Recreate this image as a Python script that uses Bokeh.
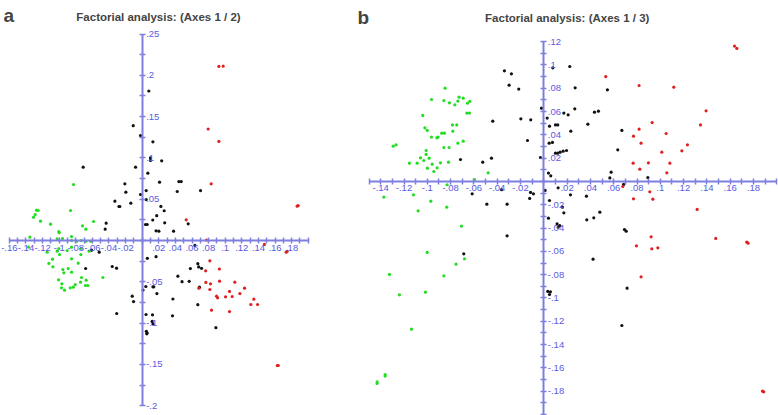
from bokeh.plotting import figure
from bokeh.layouts import row
from bokeh.models import FixedTicker, Label
from bokeh.embed import file_html
from bokeh.resources import INLINE

# ---------------- panel a: axes 1 / 2 ----------------
a_green_x = [-0.0827, -0.0863, -0.1273, -0.1253, -0.1289, -0.1309, -0.1225, -0.1104,
             -0.1004, -0.1000, -0.0719, -0.0679, -0.0586, -0.1353, -0.0960, -0.1024,
             -0.0851, -0.0850, -0.0790, -0.0735, -0.0680, -0.0620, -0.1145, -0.1024,
             -0.1004, -0.0904, -0.0851, -0.0639, -0.0735, -0.0996, -0.1080, -0.1124,
             -0.1076, -0.0851, -0.0739, -0.0771, -0.0956, -0.0944, -0.0892, -0.0851,
             -0.0731, -0.0675, -0.0683, -0.0655, -0.0743, -0.0807, -0.0867, -0.0831,
             -0.0936, -0.0972, -0.0968, -0.1008, -0.0474, -0.1370]
a_green_y = [0.0678, 0.0363, 0.0367, 0.0363, 0.0315, 0.0282, 0.0234, 0.0198,
             0.0109, 0.0093, 0.0178, 0.0137, 0.0230, 0.0040, 0.0024, 0.0020,
             0.0048, 0.0000, -0.0010, 0.0000, -0.0010, -0.0010, -0.0141, -0.0129,
             -0.0097, -0.0121, -0.0081, -0.0129, -0.0097, -0.0170, -0.0226, -0.0278,
             -0.0319, -0.0222, -0.0170, -0.0274, -0.0351, -0.0391, -0.0339, -0.0383,
             -0.0448, -0.0480, -0.0545, -0.0545, -0.0504, -0.0533, -0.0573, -0.0565,
             -0.0601, -0.0573, -0.0525, -0.0476, -0.0448, -0.0080]

a_black_x = [0.0080, -0.0108, -0.0020, 0.0129, 0.0100, 0.0100, 0.0235, -0.0080,
             -0.0711, 0.0068, -0.0209, 0.0209, 0.0442, 0.0470, -0.0197, 0.0048,
             0.0422, 0.0703, -0.0020, 0.0048, -0.0329, -0.0280, -0.0270, -0.0137,
             0.0225, 0.0265, 0.0175, 0.0127, 0.0271, 0.0040, 0.0060, 0.0167,
             0.0201, 0.0378, 0.0554, -0.0434, -0.0446, -0.0610, -0.0518, 0.0635,
             0.0062, 0.0167, -0.0361, -0.0309, -0.0681, -0.0307, -0.0120, -0.0104,
             0.0010, 0.0044, 0.0129, 0.0140, 0.0177, 0.0430, 0.0480, 0.0566,
             0.0580, 0.0670, 0.0680, 0.0715, 0.0690, 0.0370, 0.0670, 0.0365,
             0.0888, 0.0046, 0.0124, 0.0120, 0.0130, 0.0050, 0.0060, 0.0055]
a_black_y = [0.1810, 0.1390, 0.1270, 0.1195, 0.1000, 0.0970, 0.0965, 0.0888,
             0.0888, 0.0815, 0.0686, 0.0706, 0.0714, 0.0714, 0.0585, 0.0605,
             0.0593, 0.0605, 0.0557, 0.0496, 0.0476, 0.0412, 0.0412, 0.0452,
             0.0412, 0.0360, 0.0300, 0.0248, 0.0214, 0.0194, 0.0194, 0.0117,
             0.0113, 0.0113, 0.0202, 0.0210, 0.0137, -0.0117, -0.0141, -0.0060,
             -0.0216, -0.0196, -0.0315, -0.0335, -0.0339, -0.0884, -0.0674, -0.0739,
             -0.0600, -0.0557, -0.0561, -0.0561, -0.0642, -0.0432, -0.0498, -0.0494,
             -0.0340, -0.0280, -0.0320, -0.0337, -0.0565, -0.0708, -0.0777, -0.0912,
             -0.1055, -0.0896, -0.0900, -0.0980, -0.1010, -0.1100, -0.1120, -0.1130]

a_red_x = [0.0924, 0.0976, 0.0795, 0.0924, 0.0831, 0.0530, 0.0775, 0.1472,
           0.1735, 0.1747, 0.1867, 0.1879, 0.0815, 0.0765, 0.0930, 0.0767,
           0.0823, 0.0932, 0.0815, 0.0683, 0.0896, 0.0908, 0.0835, 0.1004,
           0.1052, 0.1084, 0.1116, 0.1177, 0.1233, 0.1052, 0.1309, 0.1345,
           0.1390, 0.1627, 0.1640]
a_red_y = [0.2107, 0.2110, 0.1350, 0.1200, 0.0686, 0.0250, 0.0005, -0.0048,
           -0.0141, -0.0130, 0.0416, 0.0424, -0.0246, -0.0367, -0.0345, -0.0508,
           -0.0525, -0.0492, -0.0593, -0.0577, -0.0674, -0.0694, -0.0843, -0.0682,
           -0.0617, -0.0678, -0.0504, -0.0642, -0.0577, -0.0860, -0.0775, -0.0710,
           -0.0775, -0.1513, -0.1513]

a_xticks = [-0.16, -0.14, -0.12, -0.1, -0.08, -0.06, -0.04, -0.02, 0.0,
            0.02, 0.04, 0.06, 0.08, 0.1, 0.12, 0.14, 0.16, 0.18, 0.2]
a_xlabels = ["-.16", "-.14", "-.12", "-.1", "-.08", "-.06", "-.04", "-.02", "",
             ".02", ".04", ".06", ".08", ".1", ".12", ".14", ".16", ".18", ""]
a_yticks = [-0.2, -0.15, -0.1, -0.05, 0.0, 0.05, 0.1, 0.15, 0.2, 0.25]
a_ylabels = ["-.2", "-.15", "-.1", "-.05", "", ".05", ".1", ".15", ".2", ".25"]

# ---------------- panel b: axes 1 / 3 ----------------
b_green_x = [-0.0847, -0.0964, -0.0858, -0.0810, -0.0764, -0.0738, -0.0727, -0.0692,
             -0.0655, -0.0635, -0.0661, -0.0638, -0.1039, -0.1021, -0.1001, -0.0964,
             -0.0918, -0.0907, -0.0876, -0.0853, -0.0784, -0.0747, -0.0781, -0.0858,
             -0.0813, -0.0738, -0.0692, -0.1293, -0.1268, -0.1010, -0.1010, -0.1059,
             -0.1030, -0.0984, -0.1087, -0.1153, -0.0887, -0.0818, -0.0958, -0.0916,
             -0.0999, -0.0944, -0.0478, -0.0595, -0.0830, -0.1373, -0.1119, -0.0970,
             -0.0833, -0.1079, -0.0707, -0.1001, -0.0681, -0.0753, -0.0858, -0.1325,
             -0.1016, -0.1239, -0.1136, -0.1362, -0.1362, -0.1431, -0.1431]
b_green_y = [0.0801, 0.0704, 0.0695, 0.0675, 0.0658, 0.0690, 0.0724, 0.0715,
             0.0672, 0.0687, 0.0587, 0.0587, 0.0567, 0.0461, 0.0438, 0.0381,
             0.0375, 0.0381, 0.0415, 0.0415, 0.0486, 0.0486, 0.0432, 0.0292,
             0.0292, 0.0329, 0.0346, 0.0303, 0.0315, 0.0266, 0.0232, 0.0203,
             0.0180, 0.0200, 0.0157, 0.0157, 0.0160, 0.0166, 0.0149, 0.0117,
             0.0114, 0.0086, 0.0074, 0.0017, -0.0028, -0.0134, -0.0114, -0.0169,
             -0.0220, -0.0252, -0.0383, -0.0609, -0.0664, -0.0710, -0.0810, -0.0798,
             -0.0950, -0.0973, -0.1268, -0.1657, -0.1670, -0.1720, -0.1734]

b_black_x = [-0.0338, -0.0278, -0.0298, -0.0215, -0.0020, -0.0438, -0.0197, -0.0112,
             -0.0140, -0.0715, -0.0524, -0.0449, -0.0029, -0.0615, -0.0363, -0.0114,
             -0.0089, -0.0121, -0.0489, -0.0315, -0.0315, -0.0687, 0.0223, 0.0077,
             0.0269, 0.0546, 0.0029, 0.0172, 0.0209, 0.0266, 0.0435, 0.0469,
             0.0378, 0.0049, 0.0100, 0.0120, 0.0232, 0.0670, 0.0046, 0.0074,
             0.0100, 0.0120, 0.0140, 0.0166, 0.0195, 0.0635, 0.0040, 0.0060,
             0.0578, 0.0567, 0.0893, 0.0685, 0.0011, 0.0123, 0.0229, 0.0366,
             0.0049, 0.0160, 0.0172, 0.0040, 0.0114, 0.0123, 0.0137, 0.0369,
             0.0429, 0.0481, 0.0692, 0.0707, 0.0423, 0.0715, 0.0670, 0.0034,
             0.0057, 0.0049]
b_black_y = [0.0950, 0.0924, 0.0827, 0.0793, 0.0629, 0.0518, 0.0538, 0.0529,
             0.0352, 0.0189, 0.0166, 0.0200, 0.0206, -0.0106, -0.0070, -0.0094,
             -0.0106, -0.0145, -0.0195, -0.0195, -0.0466, -0.0621, 0.0987, 0.0976,
             0.0804, 0.0787, 0.0544, 0.0587, 0.0572, 0.0624, 0.0595, 0.0604,
             0.0492, 0.0475, 0.0486, 0.0486, 0.0432, 0.0438, 0.0329, 0.0335,
             0.0243, 0.0243, 0.0252, 0.0260, 0.0266, 0.0272, 0.0072, 0.0049,
             0.0080, 0.0031, 0.0034, -0.0025, -0.0077, -0.0054, -0.0114, -0.0126,
             -0.0163, -0.0220, -0.0269, -0.0315, -0.0363, -0.0392, -0.0378, -0.0329,
             -0.0312, -0.0263, -0.0412, -0.0426, -0.0667, -0.0916, -0.1236, -0.0944,
             -0.0947, -0.0970]

b_red_x = [0.0532, 0.0818, 0.1116, 0.1637, 0.1657, 0.1393, 0.0930, 0.0818,
           0.1345, 0.0770, 0.0835, 0.1050, 0.1233, 0.1185, 0.1013, 0.0767,
           0.0898, 0.1082, 0.0824, 0.1056, 0.0678, 0.0910, 0.0770, 0.0936,
           0.1316, 0.0921, 0.1476, 0.1742, 0.1754, 0.0795, 0.0927, 0.0979,
           0.0835, 0.1877, 0.1888]
b_red_y = [0.0901, 0.0824, 0.0810, 0.1162, 0.1142, 0.0607, 0.0506, 0.0449,
           0.0486, 0.0389, 0.0329, 0.0412, 0.0315, 0.0263, 0.0252, 0.0157,
           0.0160, 0.0157, 0.0106, 0.0074, -0.0043, -0.0089, -0.0149, -0.0152,
           -0.0240, -0.0475, -0.0489, -0.0521, -0.0529, -0.0552, -0.0578, -0.0569,
           -0.0818, -0.1800, -0.1805]

b_xticks = [-0.14, -0.12, -0.1, -0.08, -0.06, -0.04, -0.02, 0.0,
            0.02, 0.04, 0.06, 0.08, 0.1, 0.12, 0.14, 0.16, 0.18, 0.2]
b_xlabels = ["-.14", "-.12", "-.1", "-.08", "-.06", "-.04", "-.02", "",
             ".02", ".04", ".06", ".08", ".1", ".12", ".14", ".16", ".18", ""]
b_yticks = [-0.2, -0.18, -0.16, -0.14, -0.12, -0.1, -0.08, -0.06, -0.04, -0.02,
            0.0, 0.02, 0.04, 0.06, 0.08, 0.1, 0.12]
b_ylabels = ["", "-.18", "-.16", "-.14", "-.12", "-.1", "-.08", "-.06", "-.04", "-.02",
             "", ".02", ".04", ".06", ".08", ".1", ".12"]

AXIS = "#7f7fe0"
TICKTXT = "#5a5ae0"
GREEN = "#22dd22"
RED = "#e02020"
BLACK = "#111111"
FONT = "Liberation Sans"


def midpoints(ticks, lo=None):
    mids = [(a + b) / 2 for a, b in zip(ticks[:-1], ticks[1:])]
    if lo is not None:
        mids = [lo] + mids
    return mids


def style_axis(ax, ticks, labels, bounds, lo=None):
    ax.fixed_location = 0
    ax.bounds = bounds
    ax.ticker = FixedTicker(ticks=ticks, minor_ticks=midpoints(ticks, lo))
    ax.major_label_overrides = dict(zip(ticks, labels))
    ax.axis_line_color = AXIS
    ax.axis_line_width = 2
    ax.major_tick_line_color = AXIS
    ax.minor_tick_line_color = AXIS
    ax.major_tick_line_width = 1.5
    ax.minor_tick_line_width = 1.5
    ax.major_tick_in = 3
    ax.major_tick_out = 3
    ax.minor_tick_in = 3
    ax.minor_tick_out = 3
    ax.major_label_text_color = TICKTXT
    ax.major_label_text_font = FONT
    ax.major_label_text_font_size = "9.5px"
    ax.major_label_standoff = 1


def panel(w, h, xr, yr, xb, yb, groups, xt, xl, yt, yl, title, tpos, letter, lpos,
          xlo=None):
    p = figure(x_range=xr, y_range=yr, frame_width=w, frame_height=h,
               min_border=0, y_axis_location="right", title=None,
               toolbar_location=None, output_backend="svg")
    p.grid.visible = False
    p.outline_line_color = None
    style_axis(p.xaxis[0], xt, xl, xb, xlo)
    style_axis(p.yaxis[0], yt, yl, yb)
    for xs, ys, c in groups:
        p.scatter(xs, ys, size=3.2, color=c, line_color=None)
    p.add_layout(Label(x=tpos[0], y=tpos[1], text=title, text_align="center",
                       text_baseline="alphabetic", text_font=FONT,
                       text_font_size="11.5px", text_font_style="bold"))
    p.add_layout(Label(x=lpos[0], y=lpos[1], text=letter, text_align="left",
                       text_baseline="alphabetic", text_font=FONT,
                       text_font_size="19px", text_font_style="bold"))
    return p


pa = panel(352, 415, (-0.17072, 0.25337), (-0.21186, 0.29056),
           (-0.16, 0.2), (-0.2, 0.25),
           [(a_black_x, a_black_y, BLACK), (a_green_x, a_green_y, GREEN),
            (a_red_x, a_red_y, RED)],
           a_xticks, a_xlabels, a_yticks, a_ylabels,
           "Factorial analysis: (Axes 1 / 2)", (0.0196, 0.2706), "a", (-0.1671, 0.2724))
pb = panel(426, 415, (-0.16421, 0.20146), (-0.20086, 0.15536),
           (-0.15, 0.2), (-0.2, 0.12),
           [(b_black_x, b_black_y, BLACK), (b_green_x, b_green_y, GREEN),
            (b_red_x, b_red_y, RED)],
           b_xticks, b_xlabels, b_yticks, b_ylabels,
           "Factorial analysis: (Axes 1 / 3)", (0.0201, 0.1403), "b", (-0.1599, 0.1408),
           xlo=-0.15)

layout = row(pa, pb)
open("out.html", "w").write(file_html(layout, INLINE))
